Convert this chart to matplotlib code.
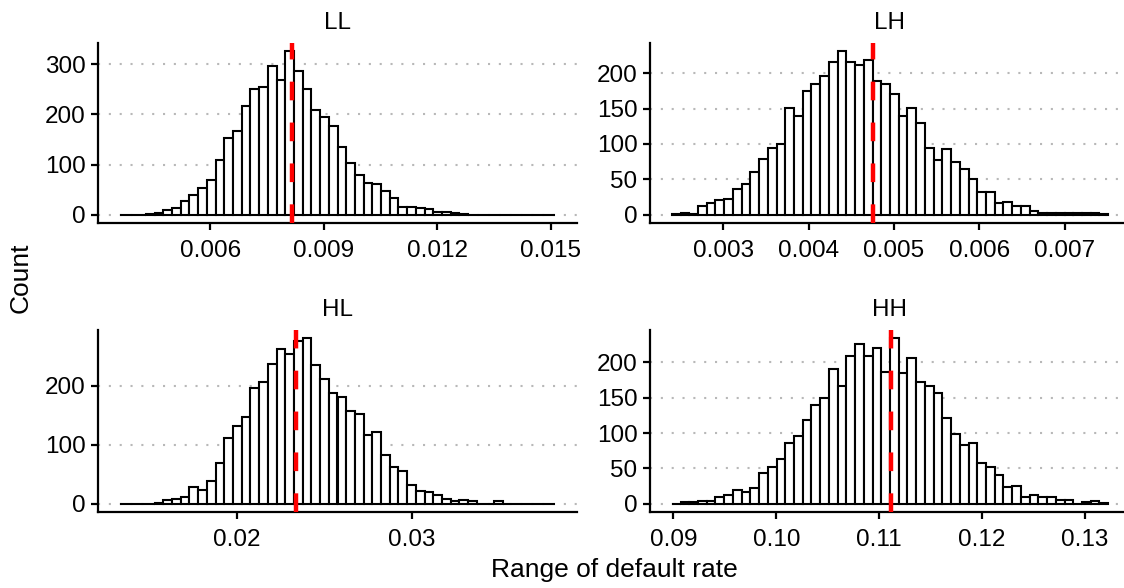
import matplotlib
matplotlib.use("Agg")
import matplotlib.pyplot as plt
import numpy as np

plt.rcParams['font.family'] = ['Liberation Sans', 'DejaVu Sans']

panel_names = ["LL", "LH", "HL", "HH"]

# faixa (min, max) dos dados de cada painel
ll_range = (0.0036, 0.01512)
lh_range = (0.002395, 0.007512)
hl_range = (0.01327, 0.03822)
hh_range = (0.08984, 0.13228)

ll_counts = [0, 0, 0, 2, 4, 9, 14, 27, 39, 54, 69, 110, 153, 166, 216, 251, 255, 297, 268, 326,
             287, 251, 209, 194, 176, 136, 103, 80, 63, 61, 47, 34, 16, 16, 14, 11, 5, 5, 3, 1,
             0, 0, 0, 0, 0, 0, 0, 0, 0, 0]
lh_counts = [1, 3, 1, 12, 16, 21, 23, 37, 43, 60, 79, 95, 100, 151, 139, 175, 184, 196, 216, 231,
             216, 211, 218, 189, 184, 171, 139, 151, 129, 95, 78, 93, 74, 64, 50, 32, 32, 16, 18, 13,
             13, 6, 3, 3, 3, 3, 2, 3, 3, 1]
hl_counts = [0, 0, 0, 0, 2, 7, 8, 11, 29, 23, 38, 69, 111, 132, 148, 197, 207, 237, 263, 254,
             276, 281, 236, 211, 188, 182, 157, 152, 117, 122, 83, 63, 56, 31, 22, 20, 14, 8, 5, 6,
             4, 0, 0, 4, 0, 0, 0, 0, 0, 0]
hh_counts = [0, 2, 2, 4, 4, 9, 13, 20, 17, 22, 43, 52, 63, 86, 96, 118, 139, 150, 191, 166,
             209, 226, 209, 220, 187, 234, 185, 206, 172, 166, 156, 121, 99, 83, 86, 57, 52, 41, 23, 25,
             9, 13, 9, 9, 5, 5, 0, 2, 4, 1]

# linha vermelha (valor de referência)
ref_values = [0.00816, 0.00475, 0.02338, 0.1112]

x_ticks = [[0.006, 0.009, 0.012, 0.015],
           [0.003, 0.004, 0.005, 0.006, 0.007],
           [0.02, 0.03],
           [0.09, 0.10, 0.11, 0.12, 0.13]]
x_fmt = ["{:.3f}", "{:.3f}", "{:.2f}", "{:.2f}"]
y_ticks = [[0, 100, 200, 300],
           [0, 50, 100, 150, 200],
           [0, 100, 200],
           [0, 50, 100, 150, 200]]

ranges = [ll_range, lh_range, hl_range, hh_range]
counts = [ll_counts, lh_counts, hl_counts, hh_counts]

# --- 2. Figura ---
W, H = 1124, 588
fig = plt.figure(figsize=(W / 100, H / 100), dpi=100)

# posições dos painéis em pixels: (esquerda, topo, direita, base)
boxes = [(98, 43, 577, 223), (650, 43, 1130, 223),
         (98, 330, 577, 512), (650, 330, 1130, 512)]

for i, name in enumerate(panel_names):
    l, t, r, b = boxes[i]
    ax = fig.add_axes([l / W, 1 - b / H, (r - l) / W, (b - t) / H])

    lo, hi = ranges[i]
    c = np.array(counts[i])
    edges = np.linspace(lo, hi, len(c) + 1)

    # grade horizontal pontilhada
    for yv in y_ticks[i]:
        ax.axhline(yv, color="#b8b8b8", lw=1.5, dashes=(1, 4.2), zorder=0)

    ax.bar(edges[:-1], c, width=np.diff(edges), align="edge",
           facecolor="white", edgecolor="black", linewidth=1.5, zorder=2)
    ax.axvline(ref_values[i], color="#ff0000", lw=3.2, dashes=(4.2, 5.0), zorder=3)

    span = hi - lo
    ax.set_xlim(lo - 0.05 * span, hi + 0.05 * span)
    ax.set_ylim(-0.05 * c.max(), 1.05 * c.max())

    ax.set_xticks(x_ticks[i])
    ax.set_xticklabels([x_fmt[i].format(v) for v in x_ticks[i]])
    ax.set_yticks(y_ticks[i])

    for s in ["top", "right"]:
        ax.spines[s].set_visible(False)
    for s in ["left", "bottom"]:
        ax.spines[s].set_linewidth(1.6)
    ax.tick_params(axis="both", length=5, width=1.6, labelsize=17.5, colors="black")
    ax.tick_params(axis="x", pad=7)
    ax.tick_params(axis="y", pad=4)

    ax.set_title(name, fontsize=17.5, pad=10)

fig.text(614 / W, 1 - 570 / H, "Range of default rate", ha="center", va="center", fontsize=19)
fig.text(21 / W, 1 - 278 / H, "Count", ha="center", va="center", rotation=90, fontsize=19)

fig.savefig("out.png", dpi=100)
